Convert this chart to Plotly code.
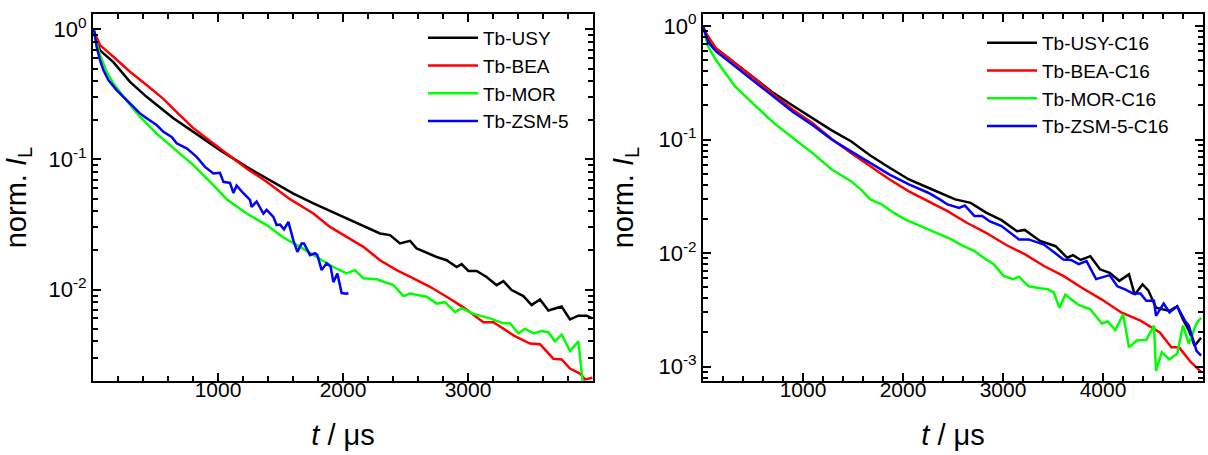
import plotly.graph_objects as go

# ---------------- data: left panel ----------------
usy_t = [0, 56, 163, 296, 429, 643, 803, 1016, 1229, 1389, 1603, 1763, 2003, 2136, 2296, 2376, 2456, 2536,
         2589, 2749, 2829, 2909, 2949, 3003, 3069, 3149, 3229, 3283, 3349, 3443, 3509, 3576, 3643, 3749,
         3816, 3883, 3949, 3995]
usy_y = [1.0, 0.69, 0.56, 0.395, 0.303, 0.207, 0.163, 0.118, 0.0877, 0.0714, 0.0547, 0.0459, 0.0362, 0.0313,
         0.027, 0.0262, 0.0226, 0.0237, 0.0207, 0.0178, 0.0168, 0.0149, 0.0157, 0.0139, 0.0139, 0.0125, 0.0108,
         0.0116, 0.0099, 0.0089, 0.0076, 0.0084, 0.0069, 0.0074, 0.0059, 0.0063, 0.0063, 0.006]

bea_t = [0, 20, 56, 163, 296, 429, 563, 696, 803, 1016, 1229, 1389, 1576, 1763, 1896, 2029, 2163, 2296, 2429,
         2563, 2696, 2829, 2963, 3123, 3203, 3363, 3496, 3576, 3683, 3749, 3816, 3896, 3936, 3995]
bea_y = [1.0, 0.9, 0.757, 0.616, 0.472, 0.373, 0.292, 0.218, 0.174, 0.1215, 0.0853, 0.0673, 0.0495, 0.0384,
         0.0303, 0.0254, 0.0213, 0.0168, 0.0141, 0.0122, 0.0105, 0.0088, 0.0073, 0.0056, 0.0056, 0.00445,
         0.00384, 0.0038, 0.00294, 0.0029, 0.00247, 0.00226, 0.00204, 0.0021]

mor_t = [0, 29, 56, 109, 163, 243, 376, 509, 643, 803, 963, 1069, 1229, 1389, 1523, 1656, 1789, 1923, 2029,
         2096, 2163, 2269, 2403, 2483, 2536, 2669, 2749, 2816, 2896, 2949, 3043, 3176, 3283, 3336, 3403, 3456,
         3523, 3589, 3643, 3696, 3749, 3816, 3883, 3930]
mor_y = [1.0, 0.78, 0.634, 0.472, 0.385, 0.303, 0.213, 0.158, 0.1216, 0.0904, 0.0634, 0.0495, 0.0384, 0.0313,
         0.0251, 0.0213, 0.0178, 0.0149, 0.0133, 0.0141, 0.0122, 0.012, 0.0108, 0.0089, 0.0093, 0.0088, 0.0078,
         0.008, 0.0067, 0.0072, 0.0065, 0.006, 0.0055, 0.0055, 0.0046, 0.005, 0.0046, 0.0048, 0.0047, 0.004,
         0.0045, 0.00337, 0.004, 0.0015]

zsm_t = [0, 10, 29, 56, 83, 123, 189, 269, 376, 429, 509, 563, 629, 669, 749, 829, 896, 963, 1016, 1043, 1096,
         1123, 1149, 1203, 1256, 1269, 1309, 1363, 1389, 1443, 1469, 1496, 1528, 1563, 1603, 1635, 1669, 1688,
         1736, 1776, 1795, 1829, 1869, 1901, 1923, 1955, 1989, 2029, 2043]
zsm_y = [1.0, 0.97, 0.735, 0.58, 0.486, 0.407, 0.341, 0.286, 0.226, 0.207, 0.184, 0.163, 0.149, 0.133, 0.1216,
         0.1047, 0.0877, 0.078, 0.079, 0.0673, 0.066, 0.0553, 0.063, 0.055, 0.0489, 0.0432, 0.0475, 0.0384,
         0.041, 0.0362, 0.0313, 0.0316, 0.029, 0.0331, 0.0239, 0.0195, 0.0226, 0.0226, 0.0184, 0.019, 0.0184,
         0.0141, 0.0159, 0.015, 0.0114, 0.0133, 0.0094, 0.0093, 0.0094]

# ---------------- data: right panel ----------------
usy16_t = [0, 51, 128, 321, 514, 707, 900, 1094, 1287, 1480, 1673, 1866, 2059, 2252, 2445, 2522, 2677, 2831,
           2985, 3140, 3217, 3371, 3526, 3642, 3700, 3777, 3873, 3970, 4066, 4163, 4260, 4317, 4395, 4453,
           4530, 4607, 4665, 4742, 4800, 4858, 4916, 4981]
usy16_y = [1.0, 0.753, 0.637, 0.47, 0.347, 0.256, 0.198, 0.155, 0.1205, 0.0965, 0.0722, 0.0564, 0.0445,
           0.0376, 0.0317, 0.0297, 0.0277, 0.0227, 0.0195, 0.0156, 0.016, 0.0128, 0.0115, 0.0091, 0.0096,
           0.0087, 0.0094, 0.0072, 0.0067, 0.0057, 0.0065, 0.0043, 0.0053, 0.0047, 0.0033, 0.0032, 0.0031,
           0.0034, 0.0026, 0.0021, 0.00153, 0.0018]

bea16_t = [0, 32, 128, 321, 514, 707, 900, 1094, 1287, 1480, 1673, 1866, 2059, 2213, 2445, 2638, 2831, 3024,
           3217, 3410, 3603, 3796, 3989, 4182, 4375, 4568, 4684, 4761, 4877, 4981]
bea16_y = [0.92, 0.86, 0.637, 0.47, 0.347, 0.248, 0.183, 0.14, 0.101, 0.0762, 0.0582, 0.0445, 0.035, 0.0297,
           0.0234, 0.0185, 0.0151, 0.0119, 0.0098, 0.0077, 0.0063, 0.0049, 0.0039, 0.003, 0.00254, 0.002,
           0.00148, 0.00148, 0.0011, 0.0009]

mor16_t = [0, 51, 128, 244, 321, 514, 707, 900, 1094, 1287, 1480, 1596, 1673, 1789, 1905, 2020, 2136, 2252,
           2368, 2484, 2600, 2715, 2831, 2908, 3005, 3101, 3159, 3256, 3371, 3449, 3507, 3565, 3623, 3757,
           3873, 3989, 4047, 4124, 4201, 4260, 4337, 4433, 4510, 4530, 4588, 4665, 4742, 4800, 4858, 4935, 4981]
mor16_y = [1.0, 0.658, 0.503, 0.359, 0.293, 0.202, 0.14, 0.103, 0.0762, 0.0544, 0.043, 0.0351, 0.0297,
           0.0268, 0.0227, 0.0198, 0.0179, 0.0164, 0.0146, 0.0132, 0.0116, 0.0104, 0.0088, 0.008, 0.0063,
           0.0059, 0.0062, 0.0051, 0.0049, 0.0048, 0.0045, 0.0033, 0.0043, 0.0035, 0.0032, 0.0024, 0.0025,
           0.0021, 0.0029, 0.00148, 0.0017, 0.00172, 0.0023, 0.00092, 0.00134, 0.00116, 0.0013, 0.0023,
           0.0016, 0.0024, 0.0027]

zsm16_t = [0, 51, 128, 321, 514, 707, 900, 1094, 1287, 1480, 1673, 1866, 2059, 2252, 2368, 2445, 2561, 2619,
           2715, 2792, 2870, 2985, 3159, 3256, 3410, 3603, 3680, 3757, 3835, 3931, 4066, 4143, 4221, 4298,
           4375, 4433, 4510, 4530, 4607, 4665, 4742, 4819, 4858, 4935, 4981]
zsm16_y = [1.0, 0.72, 0.6, 0.44, 0.325, 0.235, 0.175, 0.134, 0.1, 0.0787, 0.0622, 0.0491, 0.0402,
           0.034, 0.0297, 0.0268, 0.025, 0.0262, 0.0212, 0.0212, 0.019, 0.0173, 0.0132, 0.0132, 0.0119, 0.0088,
           0.0087, 0.008, 0.0085, 0.0059, 0.0064, 0.0051, 0.0048, 0.0044, 0.0044, 0.0038, 0.0038, 0.0028,
           0.0036, 0.003, 0.0034, 0.00254, 0.0023, 0.00138, 0.00125]

left_names = ["Tb-USY", "Tb-BEA", "Tb-MOR", "Tb-ZSM-5"]
right_names = ["Tb-USY-C16", "Tb-BEA-C16", "Tb-MOR-C16", "Tb-ZSM-5-C16"]
colors = ["#000000", "#ff0000", "#00ff00", "#0000ff"]

x_major_left = [1000, 2000, 3000]
x_major_right = [1000, 2000, 3000, 4000]
y_major_left = [1, 0.1, 0.01]
y_major_left_text = ["10<sup>0</sup>", "10<sup>-1</sup>", "10<sup>-2</sup>"]
y_major_right = [1, 0.1, 0.01, 0.001]
y_major_right_text = ["10<sup>0</sup>", "10<sup>-1</sup>", "10<sup>-2</sup>", "10<sup>-3</sup>"]

W, H = 1208, 455
FONT = "Liberation Sans, Arial, Helvetica, sans-serif"
NARROW = "Liberation Sans Narrow, Arial Narrow, Liberation Sans, sans-serif"

fig = go.Figure()
left_data = [(usy_t, usy_y), (bea_t, bea_y), (mor_t, mor_y), (zsm_t, zsm_y)]
right_data = [(usy16_t, usy16_y), (bea16_t, bea16_y), (mor16_t, mor16_y), (zsm16_t, zsm16_y)]
for (t, y), name, c in zip(left_data, left_names, colors):
    fig.add_trace(go.Scatter(x=t, y=y, mode="lines", name=name, line=dict(color=c, width=2.5),
                             xaxis="x", yaxis="y", legend="legend"))
for (t, y), name, c in zip(right_data, right_names, colors):
    fig.add_trace(go.Scatter(x=t, y=y, mode="lines", name=name, line=dict(color=c, width=2.5),
                             xaxis="x2", yaxis="y2", legend="legend2"))


def minor_log(lo_exp, hi_exp):
    vals = []
    for e in range(lo_exp, hi_exp):
        for m in range(2, 10):
            vals.append(m * 10 ** e)
    return vals


common_axis = dict(showline=True, linecolor="black", linewidth=2, mirror="ticks", ticks="inside",
                   ticklen=8, tickwidth=1.5, tickcolor="black", showgrid=False, zeroline=False,
                   automargin=False)
xfont = dict(family=FONT, size=21, color="black")
yfont = dict(family=FONT, size=22, color="black")

left_dom_x = [93 / W, 593 / W]
right_dom_x = [703 / W, 1203 / W]
dom_y = [1 - 381 / H, 1 - 14 / H]

title_font = dict(family=NARROW, size=29, color="black")
minor_style = dict(ticks="inside", ticklen=5, tickwidth=1.5, tickcolor="black")

fig.update_layout(
    width=W, height=H, margin=dict(l=0, r=0, t=0, b=0),
    paper_bgcolor="white", plot_bgcolor="white",
    xaxis=dict(domain=left_dom_x, range=[0, 4000], tickvals=x_major_left, anchor="y",
               minor=dict(tickvals=list(range(200, 4000, 200)), **minor_style),
               ticklabelstandoff=-11, tickfont=xfont,
               title=dict(text="<i>t</i> / μs", font=title_font, standoff=24), **common_axis),
    yaxis=dict(domain=dom_y, type="log", range=[-2.703, 0.118], tickvals=y_major_left,
               ticktext=y_major_left_text, anchor="x",
               minor=dict(tickvals=minor_log(-3, 0), **minor_style),
               ticklabelstandoff=0, tickfont=yfont,
               title=dict(text="norm. <i>I</i><sub>L</sub>", font=title_font, standoff=16), **common_axis),
    xaxis2=dict(domain=right_dom_x, range=[0, 5000], tickvals=x_major_right, anchor="y2",
                minor=dict(tickvals=list(range(200, 5000, 200)), **minor_style),
                ticklabelstandoff=-11, tickfont=xfont,
                title=dict(text="<i>t</i> / μs", font=title_font, standoff=24), **common_axis),
    yaxis2=dict(domain=dom_y, type="log", range=[-3.126, 0.105], tickvals=y_major_right,
                ticktext=y_major_right_text, anchor="x2",
                minor=dict(tickvals=minor_log(-4, 0), **minor_style),
                ticklabelstandoff=0, tickfont=yfont,
                title=dict(text="norm. <i>I</i><sub>L</sub>", font=title_font, standoff=16), **common_axis),
    legend=dict(x=423 / W, y=1 - 19 / H, xanchor="left", yanchor="top", bgcolor="rgba(0,0,0,0)",
                font=dict(family=FONT, size=19, color="black"), itemwidth=50, tracegroupgap=0),
    legend2=dict(x=982 / W, y=1 - 24 / H, xanchor="left", yanchor="top", bgcolor="rgba(0,0,0,0)",
                 font=dict(family=FONT, size=19, color="black"), itemwidth=50, tracegroupgap=0),
)

fig.write_html("out.html")
